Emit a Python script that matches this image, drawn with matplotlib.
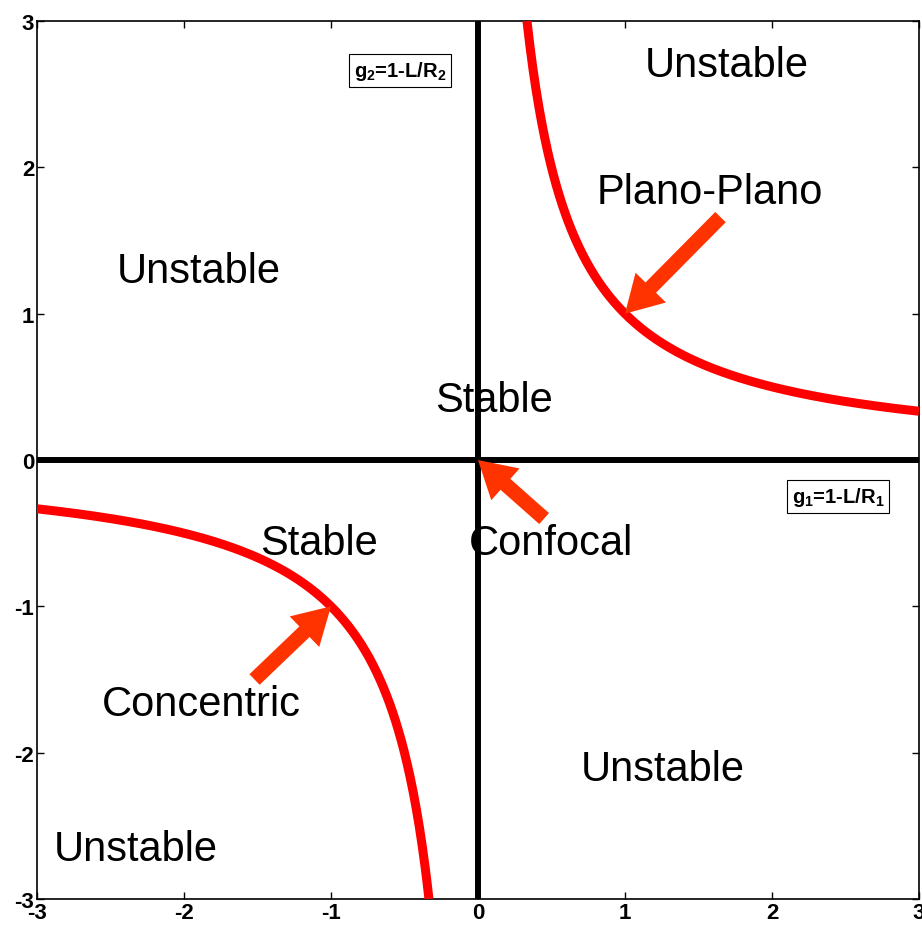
import matplotlib
matplotlib.use('Agg')
import matplotlib.pyplot as plt
import numpy as np

plt.rcParams['font.family'] = ['Liberation Sans', 'DejaVu Sans']
plt.rcParams['mathtext.fontset'] = 'custom'
plt.rcParams['mathtext.rm'] = 'Liberation Sans:bold'
plt.rcParams['mathtext.bf'] = 'Liberation Sans:bold'
plt.rcParams['axes.unicode_minus'] = False

# stability boundary g1*g2 = 1 (two branches)
g1_upper = np.linspace(1/3, 3, 400)
g1_lower = np.linspace(-3, -1/3, 400)

ticks = [-3, -2, -1, 0, 1, 2, 3]

# region labels: (text, g1, g2)
labels = [
    ('Unstable', 1.69, 2.70),
    ('Plano-Plano', 1.58, 1.83),
    ('Unstable', -1.90, 1.29),
    ('Stable', 0.11, 0.41),
    ('Stable', -1.08, -0.57),
    ('Confocal', 0.50, -0.57),
    ('Concentric', -1.88, -1.67),
    ('Unstable', 1.26, -2.11),
    ('Unstable', -2.33, -2.66),
]

# arrows: tail (g1, g2) -> head (g1, g2)
arrows = [
    ((1.65, 1.66), (1.0, 1.0)),
    ((0.45, -0.40), (0.0, 0.0)),
    ((-1.52, -1.50), (-1.0, -1.0)),
]

fig = plt.figure(figsize=(9.22, 9.29), dpi=100)
ax = fig.add_axes([0.0401, 0.0312, 0.9566, 0.9451])

ax.plot(g1_upper, 1 / g1_upper, color='#ff0000', lw=6.5, solid_capstyle='butt', zorder=3)
ax.plot(g1_lower, 1 / g1_lower, color='#ff0000', lw=6.5, solid_capstyle='butt', zorder=3)

ax.axhline(0, color='black', lw=4.3, zorder=2)
ax.axvline(0, color='black', lw=4.3, zorder=2)

for (x0, y0), (x1, y1) in arrows:
    ax.arrow(x0, y0, x1 - x0, y1 - y0, width=0.1, head_width=0.29,
             head_length=0.25, length_includes_head=True,
             color='#ff3300', lw=0, zorder=4)

for txt, x, y in labels:
    ax.text(x, y, txt, fontsize=30, ha='center', va='center', zorder=5)

box = dict(boxstyle='square,pad=0.25', fc='white', ec='black', lw=0.8)
ax.text(-0.53, 2.66, 'g$_2$=1-L/R$_2$', fontsize=14.5, fontweight='bold',
        ha='center', va='center', bbox=box, zorder=5)
ax.text(2.45, -0.25, 'g$_1$=1-L/R$_1$', fontsize=14.5, fontweight='bold',
        ha='center', va='center', bbox=box, zorder=5)

ax.set_xlim(-3, 3)
ax.set_ylim(-3, 3)
ax.set_xticks(ticks)
ax.set_yticks(ticks)
ax.tick_params(direction='in', length=5, width=1, top=True, right=True,
               labelsize=16, pad=2)
for lab in ax.get_xticklabels() + ax.get_yticklabels():
    lab.set_fontweight('bold')
for sp in ax.spines.values():
    sp.set_linewidth(1.2)

fig.savefig('out.png', dpi=100)
